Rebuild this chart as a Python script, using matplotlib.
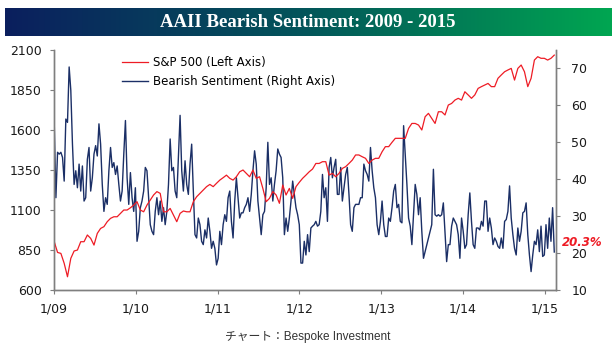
import numpy as np
import pandas as pd
import matplotlib
matplotlib.use("Agg")
import matplotlib.pyplot as plt
import matplotlib.dates as mdates

# weekly AAII bearish reading (%), Jan 2009 - Feb 2015
bearish = [
    55.0, 35.0, 47.3, 46.8, 47.3, 45.9, 39.5, 56.3, 55.4, 70.4, 64.1, 49.5, 38.6, 42.3,
    37.7, 44.1, 36.8, 43.6, 34.1, 35.0, 45.4, 48.6, 36.8, 40.4, 46.8, 49.1, 46.3, 55.0,
    49.5, 38.6, 31.3, 35.0, 33.2, 42.3, 48.6, 43.2, 44.5, 41.3, 43.6, 38.6, 34.1, 36.8,
    46.8, 55.9, 40.4, 33.2, 41.8, 35.0, 31.3, 37.7, 23.2, 25.9, 32.3, 34.1,
    # 2010
    36.8, 43.2, 42.3, 35.0, 27.7, 25.9, 25.0, 31.3, 35.0, 30.4, 34.1, 28.6, 32.3, 27.7,
    31.3, 38.6, 50.9, 42.3, 43.2, 36.8, 35.0, 45.9, 57.3, 42.3, 36.8, 45.0, 38.6, 35.9,
    44.1, 49.5, 36.8, 25.0, 24.1, 29.5, 27.7, 23.2, 22.3, 26.3, 24.1, 29.5, 25.9, 21.3,
    23.2,
    # 2011
    21.3, 16.8, 18.6, 25.9, 22.3, 27.7, 30.4, 28.6, 35.0, 36.8, 28.6, 24.1, 34.1, 40.4,
    35.0, 29.5, 30.9, 30.9, 32.3, 33.2, 35.0, 31.3, 35.9, 42.3, 47.7, 44.1, 34.1, 29.5,
    25.0, 30.4, 31.3, 37.7, 50.0, 38.6, 40.4, 34.1, 38.6, 42.3, 48.2, 46.8, 45.9, 40.4,
    25.0, 29.5, 25.9, 29.5, 34.1, 39.5, 35.9,
    # 2012
    32.3, 30.4, 27.7, 17.3, 17.3, 23.2, 19.5, 25.0, 20.4, 26.8, 27.3, 27.7, 28.6, 27.3,
    27.7, 31.3, 41.3, 35.0, 37.7, 28.6, 43.2, 45.9, 40.4, 43.2, 45.4, 35.9, 35.9, 43.2,
    34.1, 37.7, 41.3, 43.2, 35.9, 27.7, 25.9, 32.3, 33.2, 33.2, 33.2, 35.0, 35.0, 44.1,
    42.3, 41.3, 39.5, 48.6, 42.3, 37.7, 35.0,
    # 2013
    27.7, 25.0, 28.6, 34.1, 27.7, 24.5, 24.5, 29.5, 28.6, 32.3, 36.8, 38.6, 32.3, 33.2,
    28.6, 28.2, 54.5, 46.8, 38.6, 29.5, 27.3, 22.3, 30.4, 38.6, 35.9, 30.4, 35.0, 25.9,
    18.6, 20.4, 22.3, 24.1, 25.9, 27.7, 42.7, 30.4, 30.0, 30.4, 30.0, 30.4, 33.6, 25.9,
    17.7, 22.3, 22.3, 27.3, 29.5, 28.6, 27.7,
    # 2014 - Feb 2015
    25.0, 18.6, 29.5, 25.9, 21.3, 22.3, 30.4, 36.3, 28.6, 22.3, 21.3, 26.8, 26.8, 26.3,
    28.6, 27.3, 34.1, 34.1, 25.9, 29.5, 26.8, 22.3, 24.1, 23.2, 21.8, 21.3, 24.1, 21.3,
    28.6, 29.1, 31.3, 38.2, 29.5, 25.0, 21.3, 19.5, 26.8, 23.2, 25.9, 30.9, 31.3, 33.6,
    25.0, 19.5, 15.0, 19.5, 23.2, 22.3, 26.3, 20.4, 27.3, 19.1, 19.5, 27.7, 21.3, 29.5,
    23.2, 32.3, 20.3,
]

# S&P 500, roughly every two weeks over the same span
spx = [
    902, 835, 829, 767, 683, 798, 844, 850, 902, 902, 944, 923, 881, 954, 985, 996,
    1027, 1048, 1058, 1058, 1079, 1100, 1100, 1114, 1131, 1152,
    # 2010
    1100, 1089, 1131, 1162, 1194, 1215, 1204, 1089, 1089, 1110, 1069, 1027, 1079, 1094,
    1089, 1089, 1152, 1183, 1204, 1225, 1246, 1260,
    # 2011
    1246, 1267, 1287, 1302, 1318, 1298, 1287, 1308, 1339, 1350, 1329, 1308, 1350, 1298,
    1308, 1235, 1152, 1173, 1215, 1194, 1142, 1256, 1194, 1235, 1173,
    # 2012
    1246, 1273, 1298, 1318, 1339, 1356, 1391, 1391, 1402, 1402, 1318, 1329, 1308, 1329,
    1360, 1371, 1391, 1412, 1444, 1444, 1433, 1423, 1391, 1412, 1423,
    # 2013
    1423, 1464, 1496, 1496, 1523, 1548, 1548, 1548, 1548, 1610, 1641, 1641, 1631, 1600,
    1683, 1704, 1673, 1641, 1714, 1714, 1694, 1756, 1766, 1787, 1798,
    # 2014 - Feb 2015
    1787, 1839, 1819, 1798, 1819, 1860, 1871, 1881, 1891, 1871, 1871, 1923, 1944, 1964,
    1975, 1985, 1912, 1985, 2006, 1964, 1871, 1923, 2037, 2058, 2048, 2048, 2037, 2048,
    2068,
]

start, end = "2009-01-02", "2015-02-12"
bear_dates = pd.date_range(start, end, periods=len(bearish))
spx_dates = pd.date_range(start, end, periods=len(spx))

year_ticks = pd.to_datetime(["2009-01-01", "2010-01-01", "2011-01-01", "2012-01-01",
                             "2013-01-01", "2014-01-01", "2015-01-01"])
year_labels = ["1/09", "1/10", "1/11", "1/12", "1/13", "1/14", "1/15"]

red = "#ee1c25"
navy = "#1b2f66"
grey = "#7f7f7f"

fig = plt.figure(figsize=(6.16, 3.52), dpi=100)

# title banner with a navy -> green gradient
bax = fig.add_axes([0.008, 0.898, 0.984, 0.08])
grad = np.linspace(0, 1, 256).reshape(1, -1)
cmap = matplotlib.colors.LinearSegmentedColormap.from_list(
    "banner", ["#0b1f5e", "#03565a", "#00a651"])
bax.imshow(grad, aspect="auto", cmap=cmap, extent=[0, 1, 0, 1])
bax.set_axis_off()
bax.text(0.5, 0.48, "AAII Bearish Sentiment: 2009 - 2015", color="white",
         ha="center", va="center", fontsize=13.5, fontweight="bold",
         family="Liberation Serif")

ax = fig.add_axes([0.0877, 0.176, 0.815, 0.682])
ax2 = ax.twinx()

l1, = ax.plot(spx_dates, spx, color=red, lw=0.9, label="S&P 500 (Left Axis)")
l2, = ax2.plot(bear_dates, bearish, color=navy, lw=1.0,
               label="Bearish Sentiment (Right Axis)")
ax.set_zorder(ax2.get_zorder() + 1)
ax.patch.set_visible(False)

ax.set_ylim(600, 2100)
ax.set_yticks([600, 850, 1100, 1350, 1600, 1850, 2100])
ax2.set_ylim(10, 75)
ax2.set_yticks([10, 20, 30, 40, 50, 60, 70])
ax.set_xlim(pd.Timestamp("2009-01-01"), pd.Timestamp("2015-02-20"))
ax.set_xticks(year_ticks)
ax.set_xticklabels(year_labels)

for a in (ax, ax2):
    a.spines["top"].set_visible(False)
    for s in ("left", "right", "bottom"):
        a.spines[s].set_color(grey)
        a.spines[s].set_linewidth(1.0)
    a.tick_params(colors=grey, labelcolor="#1a1a1a", labelsize=9, length=3,
                  direction="out")
ax.tick_params(axis="x", pad=6)
ax.tick_params(axis="y", pad=6)
ax2.tick_params(axis="y", pad=8)

ax.legend(handles=[l1, l2], loc="upper left", bbox_to_anchor=(0.115, 1.02),
          frameon=False, fontsize=8.5, handlelength=2.2, handletextpad=0.4,
          labelspacing=0.55)

ax2.annotate(f"{bearish[-1]:.1f}%", xy=(1.0, bearish[-1]),
             xycoords=("axes fraction", "data"), xytext=(4, 7),
             textcoords="offset points", color=red, fontsize=8.5,
             fontweight="bold", fontstyle="italic", va="center", ha="left")

fig.text(0.5, 0.042, "チャート：Bespoke Investment", ha="center", va="center",
         fontsize=8.5, color="#333333",
         family=["Liberation Sans", "Noto Sans CJK JP"])

fig.savefig("out.png", dpi=100)
